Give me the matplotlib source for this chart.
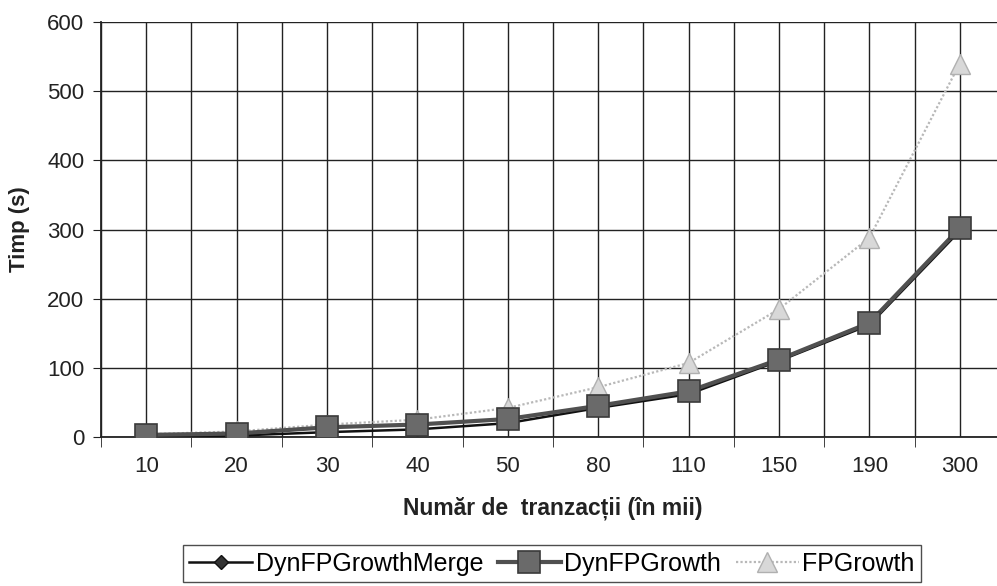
import matplotlib
matplotlib.use("Agg")
import matplotlib.pyplot as plt
import numpy as np

categories = ["10", "20", "30", "40", "50", "80", "110", "150", "190", "300"]
dyn_merge = [1, 2, 7, 11, 20, 42, 62, 110, 162, 298]
dyn_growth = [3, 5, 14, 18, 26, 45, 66, 112, 165, 302]
fp_growth = [4, 8, 18, 25, 42, 72, 107, 185, 288, 540]
y_ticks = [0, 100, 200, 300, 400, 500, 600]

plt.rcParams['font.family'] = ['Liberation Sans', 'DejaVu Sans']

fig = plt.figure(figsize=(9.97, 5.86), dpi=100)
ax = fig.add_axes([0.1013, 0.2543, 0.9067, 0.708])

x = np.arange(len(categories))

ax.plot(x, fp_growth, color='#b8b8b8', lw=1.6, ls=(0, (1, 1)), marker='^', ms=14,
        mfc='#d8d8d8', mec='#b0b0b0', mew=1, label='FPGrowth', zorder=3)
ax.plot(x, dyn_merge, color='#111111', lw=1.8, marker='D', ms=7,
        mfc='#333333', mec='#111111', label='DynFPGrowthMerge', zorder=4)
ax.plot(x, dyn_growth, color='#505050', lw=3.0, marker='s', ms=16,
        mfc='#6a6a6a', mec='#3a3a3a', mew=1.2, label='DynFPGrowth', zorder=5)

ax.set_xlim(-0.5, len(categories) - 0.5)
ax.set_ylim(0, 600)
ax.set_yticks(y_ticks)
ax.set_xticks(x)
ax.set_xticklabels(categories)
ax.set_xticks(np.arange(len(categories) + 1) - 0.5, minor=True)

ax.grid(True, which='major', axis='both', color='#222222', lw=1.0)
ax.grid(True, which='minor', axis='x', color='#222222', lw=1.0)
ax.set_axisbelow(True)

for s in ['top', 'right']:
    ax.spines[s].set_visible(False)
ax.spines['left'].set_color('#222222')
ax.spines['bottom'].set_color('#222222')
ax.spines['left'].set_linewidth(1.3)
ax.spines['bottom'].set_linewidth(1.3)

ax.tick_params(axis='x', which='major', length=0, pad=14, labelsize=16, colors='#222222')
ax.tick_params(axis='x', which='minor', length=7, direction='out', color='#222222')
ax.tick_params(axis='y', which='major', length=6, direction='out', pad=6, labelsize=16, colors='#222222')

ax.set_xlabel('Număr de  tranzacții (în mii)', fontsize=16.5, fontweight='bold', labelpad=14, color='#222222')
ax.set_ylabel('Timp (s)', fontsize=16, fontweight='bold', labelpad=12, color='#222222')

handles, labels = ax.get_legend_handles_labels()
hmap = dict(zip(labels, handles))
order = ['DynFPGrowthMerge', 'DynFPGrowth', 'FPGrowth']
leg = fig.legend([hmap[k] for k in order], order,
                 loc='lower center', bbox_to_anchor=(0.5537, 0.007), ncol=3,
                 fontsize=18, frameon=True, fancybox=False, edgecolor='#222222',
                 handlelength=2.5, handletextpad=0.15, columnspacing=0.6,
                 borderpad=0.25, borderaxespad=0)
leg.get_frame().set_linewidth(1.0)

fig.savefig('out.png', dpi=100)
